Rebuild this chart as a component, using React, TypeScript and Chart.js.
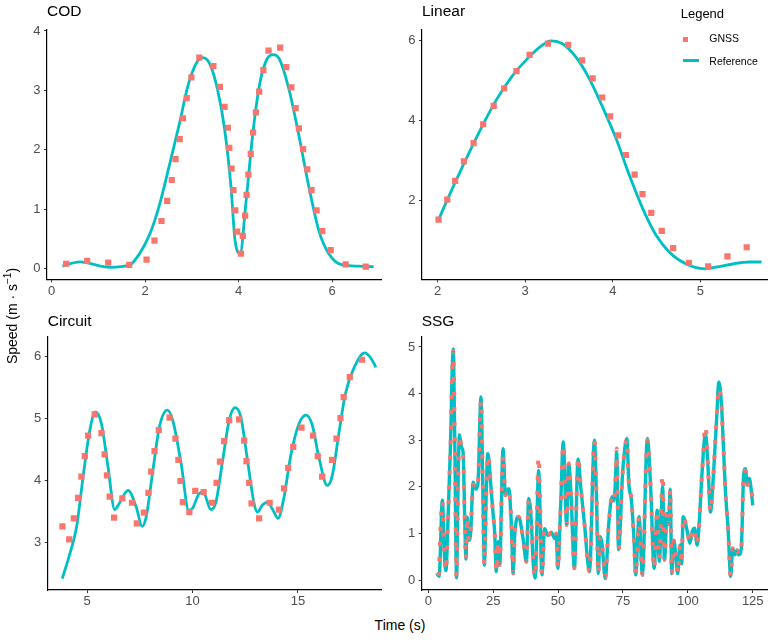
import React, { useEffect, useRef } from 'react';
import { Chart, registerables } from 'chart.js';

Chart.register(...registerables);

type Pt = [number, number];

const REFERENCE_COLOR = '#00BFC4';
const GNSS_COLOR = '#F8766D';
const FONT = '"Liberation Sans", Arial, Helvetica, sans-serif';

// ---- COD ----
const codReference: Pt[] = [
  [0.23, 0.04], [0.6, 0.11], [1.24, 0.02], [1.67, 0.06], [1.88, 0.25], [2.1, 0.58],
  [2.31, 1.08], [2.52, 1.74], [2.74, 2.46], [2.91, 3.06], [3.09, 3.45], [3.23, 3.55],
  [3.38, 3.45], [3.55, 3.01], [3.7, 2.35], [3.84, 1.35], [3.92, 0.5], [4.03, 0.25],
  [4.16, 1.13], [4.3, 2.24], [4.44, 3.06], [4.58, 3.48], [4.73, 3.6], [4.87, 3.53],
  [5.08, 3.01], [5.29, 2.24], [5.51, 1.35], [5.72, 0.63], [5.93, 0.25], [6.22, 0.06],
  [6.57, 0.04], [6.89, 0.03],
];
const codGnss: Pt[] = [
  [0.31, 0.08], [0.76, 0.13], [1.21, 0.1], [1.66, 0.06], [2.03, 0.15], [2.2, 0.47],
  [2.35, 0.8], [2.47, 1.14], [2.57, 1.49], [2.65, 1.84], [2.74, 2.18], [2.81, 2.53],
  [2.89, 2.87], [2.99, 3.22], [3.16, 3.55], [3.46, 3.41], [3.6, 3.06], [3.7, 2.72],
  [3.77, 2.37], [3.8, 2.03], [3.85, 1.68], [3.89, 1.32], [3.93, 0.98], [3.97, 0.62],
  [4.05, 0.25], [4.09, 0.55], [4.14, 0.89], [4.17, 1.24], [4.21, 1.58], [4.26, 1.93],
  [4.31, 2.29], [4.37, 2.63], [4.44, 2.98], [4.53, 3.34], [4.64, 3.67], [4.89, 3.72],
  [5.02, 3.39], [5.13, 3.05], [5.22, 2.7], [5.29, 2.36], [5.38, 2.01], [5.47, 1.67],
  [5.56, 1.32], [5.67, 0.98], [5.79, 0.63], [5.97, 0.31], [6.29, 0.07], [6.72, 0.03],
];
const codTimeTicks = [0, 2, 4, 6];
const codSpeedTicks = [0, 1, 2, 3, 4];

// ---- Linear ----
const linearReference: Pt[] = [
  [2.0, 1.47], [2.11, 2.02], [2.29, 2.88], [2.48, 3.74], [2.67, 4.52], [2.86, 5.14],
  [3.05, 5.61], [3.2, 5.9], [3.29, 6.0], [3.43, 5.92], [3.58, 5.59], [3.73, 5.06],
  [3.88, 4.36], [4.04, 3.54], [4.19, 2.63], [4.34, 1.81], [4.49, 1.15], [4.65, 0.7],
  [4.84, 0.41], [5.05, 0.29], [5.18, 0.33], [5.37, 0.41], [5.56, 0.46], [5.7, 0.46],
];
const linearGnss: Pt[] = [
  [2.01, 1.52], [2.11, 2.02], [2.2, 2.49], [2.3, 2.98], [2.41, 3.44], [2.52, 3.91],
  [2.64, 4.37], [2.76, 4.81], [2.9, 5.24], [3.05, 5.65], [3.26, 5.93], [3.49, 5.9],
  [3.65, 5.51], [3.77, 5.06], [3.88, 4.58], [3.97, 4.11], [4.06, 3.63], [4.15, 3.14],
  [4.25, 2.65], [4.34, 2.16], [4.44, 1.69], [4.56, 1.24], [4.69, 0.81], [4.87, 0.44],
  [5.09, 0.35], [5.31, 0.6], [5.53, 0.83],
];
const linearTimeTicks = [2, 3, 4, 5];
const linearSpeedTicks = [2, 4, 6];

// ---- Circuit ----
const circuitReference: Pt[] = [
  [3.82, 2.42], [4.18, 2.82], [4.5, 3.25], [4.81, 4.06], [5.13, 4.81], [5.39, 5.1],
  [5.68, 4.91], [5.99, 4.22], [6.31, 3.53], [6.51, 3.62], [6.94, 3.84], [7.33, 3.57],
  [7.61, 3.26], [7.8, 3.41], [8.12, 4.16], [8.43, 4.86], [8.8, 5.13], [9.06, 4.97],
  [9.46, 4.27], [9.82, 3.52], [10.0, 3.55], [10.32, 3.79], [10.51, 3.81], [10.87, 3.53],
  [11.11, 3.65], [11.43, 4.32], [11.74, 4.97], [12.02, 5.17], [12.29, 5.02], [12.61, 4.32],
  [12.92, 3.63], [13.08, 3.49], [13.31, 3.6], [13.55, 3.65], [13.82, 3.52], [14.06, 3.39],
  [14.34, 3.73], [14.65, 4.38], [15.05, 4.91], [15.39, 5.05], [15.68, 4.89], [15.99, 4.38],
  [16.39, 3.92], [16.62, 4.06], [16.94, 4.75], [17.25, 5.39], [17.65, 5.8], [18.17, 6.05],
  [18.43, 5.98], [18.7, 5.82],
];
const circuitGnss: Pt[] = [
  [3.83, 3.26], [4.15, 3.05], [4.37, 3.39], [4.57, 3.72], [4.73, 4.06], [4.89, 4.39],
  [5.05, 4.72], [5.36, 5.06], [5.68, 4.76], [5.83, 4.42], [5.94, 4.08], [6.07, 3.74],
  [6.28, 3.4], [6.67, 3.71], [7.13, 3.64], [7.36, 3.31], [7.69, 3.48], [7.91, 3.8],
  [8.04, 4.14], [8.2, 4.47], [8.4, 4.81], [8.91, 5.01], [9.19, 4.67], [9.33, 4.33],
  [9.43, 3.99], [9.54, 3.65], [9.85, 3.49], [10.13, 3.83], [10.53, 3.81], [10.92, 3.64],
  [11.14, 3.96], [11.3, 4.3], [11.5, 4.63], [11.74, 4.97], [12.21, 4.98], [12.45, 4.64],
  [12.56, 4.31], [12.69, 3.96], [12.8, 3.63], [13.16, 3.39], [13.66, 3.64], [14.1, 3.53],
  [14.34, 3.87], [14.54, 4.2], [14.78, 4.54], [15.17, 4.85], [15.72, 4.72], [15.94, 4.39],
  [16.15, 4.06], [16.62, 4.33], [16.83, 4.67], [17.02, 5.0], [17.17, 5.34], [17.46, 5.66],
  [18.04, 5.94],
];
const circuitTimeTicks = [5, 10, 15];
const circuitSpeedTicks = [3, 4, 5, 6];

// ---- SSG ----
const ssgReference: Pt[] = [
  [3.2, 0.14], [4.2, 0.08], [5.4, 1.71], [6.3, 0.45], [6.8, 0.2], [7.6, 1.3], [8.5, 2.8],
  [9.6, 4.96], [10.2, 3.0], [10.9, 0.05], [11.4, 1.8], [12.0, 3.12], [12.8, 2.85],
  [13.4, 2.75], [14.0, 1.4], [14.5, 0.45], [15.0, 1.35], [15.6, 0.85], [16.3, 1.0],
  [17.3, 2.1], [18.3, 1.95], [19.1, 2.05], [20.3, 3.93], [21.0, 2.0], [21.6, 0.32],
  [22.3, 1.8], [22.9, 2.71], [23.5, 2.5], [24.0, 2.1], [24.9, 1.46], [25.6, 1.0],
  [26.2, 0.18], [26.9, 0.82], [27.5, 0.32], [28.8, 2.82], [29.7, 1.82], [30.3, 1.9],
  [31.0, 1.96], [32.0, 1.2], [32.7, 0.14], [33.3, 0.96], [34.8, 1.36], [36.5, 0.89],
  [37.8, 0.39], [38.7, 1.75], [39.7, 1.25], [40.4, 0.39], [41.2, 0.04], [42.5, 2.35],
  [43.8, 0.11], [44.8, 1.1], [46.1, 0.96], [47.4, 1.02], [48.7, 0.89], [49.3, 1.0],
  [49.9, 0.25], [51.0, 1.6], [52.0, 2.96], [53.3, 1.18], [54.1, 2.5], [55.0, 1.82],
  [56.3, 0.25], [57.7, 2.6], [58.8, 1.96], [60.1, 1.25], [62.1, 0.18], [64.0, 3.0],
  [64.8, 1.8], [65.5, 0.14], [66.2, 0.93], [66.9, 0.79], [68.2, 0.03], [69.5, 1.18],
  [70.8, 1.79], [71.5, 1.7], [72.0, 2.0], [72.6, 2.75], [73.3, 0.65], [74.9, 2.32],
  [76.5, 3.04], [77.3, 2.04], [78.2, 1.75], [79.3, 0.82], [79.9, 0.11], [81.2, 1.36],
  [82.5, 0.11], [84.4, 3.04], [85.7, 1.96], [87.0, 0.25], [88.2, 1.5], [89.0, 0.4],
  [90.3, 2.0], [91.0, 0.43], [92.0, 1.43], [92.6, 1.2], [93.2, 1.95], [93.8, 0.14],
  [94.6, 0.85], [95.4, 0.5], [96.1, 0.14], [97.0, 0.75], [97.6, 0.35], [98.2, 1.36],
  [99.8, 1.04], [100.8, 0.79], [101.7, 1.04], [102.6, 1.11], [103.6, 0.75], [104.4, 1.25],
  [105.5, 2.32], [106.8, 3.15], [107.8, 2.39], [108.7, 1.46], [110.0, 2.39], [111.3, 3.68],
  [111.9, 4.25], [112.9, 3.82], [113.8, 2.75], [114.5, 1.89], [115.5, 1.11], [116.5, 0.08],
  [117.3, 0.68], [118.1, 0.54], [119.0, 0.64], [119.6, 0.54], [120.6, 0.68], [121.5, 2.25],
  [122.2, 2.39], [122.9, 2.04], [123.7, 2.18], [124.5, 1.89], [125.0, 1.6],
];
const ssgGnss: Pt[] = [
  [4.0, 0.09], [5.4, 1.68], [6.3, 0.45], [6.8, 0.2], [7.6, 1.3], [8.5, 2.8],
  [9.6, 4.92], [10.2, 3.0], [10.9, 0.08], [11.4, 1.8], [12.0, 3.1], [12.8, 2.85],
  [13.4, 2.75], [14.0, 1.4], [14.5, 0.45], [15.0, 1.35], [15.6, 0.85], [16.3, 1.0],
  [17.3, 2.05], [18.3, 1.95], [19.1, 2.05], [20.3, 3.85], [21.0, 2.0], [21.6, 0.32],
  [22.3, 1.8], [22.9, 2.68], [23.5, 2.5], [24.0, 2.1], [24.9, 1.46], [25.6, 1.0],
  [26.2, 0.18], [26.9, 0.82], [27.5, 0.32], [28.8, 2.68], [29.7, 1.82], [30.3, 1.9],
  [31.0, 1.96], [32.0, 1.2], [32.7, 0.14], [33.3, 0.96], [34.8, 1.36], [36.5, 0.89],
  [37.8, 0.39], [38.7, 1.72], [39.7, 1.25], [40.4, 0.39], [41.2, 0.06], [42.5, 2.64],
  [43.8, 0.11], [44.8, 1.1], [46.1, 0.96], [47.4, 1.02], [48.7, 0.89], [49.3, 1.0],
  [49.9, 0.25], [51.0, 1.6], [52.0, 2.9], [53.3, 1.18], [54.1, 2.5], [55.0, 1.82],
  [56.3, 0.25], [57.7, 2.64], [58.8, 1.96], [60.1, 1.25], [62.1, 0.18], [64.0, 2.98],
  [64.8, 1.8], [65.5, 0.14], [66.2, 0.93], [66.9, 0.79], [68.2, 0.06], [69.5, 1.18],
  [70.8, 1.79], [71.5, 1.7], [72.0, 2.0], [72.6, 2.82], [73.3, 0.65], [74.9, 2.32],
  [76.5, 3.02], [77.3, 2.04], [78.2, 1.75], [79.3, 0.82], [79.9, 0.11], [81.2, 1.36],
  [82.5, 0.11], [84.4, 3.0], [85.7, 1.96], [87.0, 0.25], [88.2, 1.5], [89.0, 0.45],
  [90.3, 2.25], [91.0, 0.43], [92.0, 1.43], [92.6, 1.2], [93.2, 1.95], [93.8, 0.14],
  [94.6, 0.85], [95.4, 0.5], [96.1, 0.14], [97.0, 0.75], [97.6, 0.35], [98.2, 1.36],
  [99.8, 1.04], [100.8, 0.79], [101.7, 1.04], [102.6, 1.11], [103.6, 0.75], [104.4, 1.25],
  [105.5, 2.32], [106.8, 3.3], [107.8, 2.39], [108.7, 1.46], [110.0, 2.39], [111.3, 3.68],
  [111.9, 4.12], [112.9, 3.78], [113.8, 2.75], [114.5, 1.89], [115.5, 1.11], [116.5, 0.08],
  [117.3, 0.68], [118.1, 0.54], [119.0, 0.64], [119.6, 0.54], [120.6, 0.68], [121.5, 2.25],
  [122.2, 2.35], [122.9, 2.04], [123.7, 2.1], [124.5, 1.89], [125.0, 1.75],
];
const ssgTimeTicks = [0, 25, 50, 75, 100, 125];
const ssgSpeedTicks = [0, 1, 2, 3, 4, 5];

interface PanelSpec {
  title: string;
  reference: Pt[];
  gnss: Pt[];
  dotted: boolean;
  referenceWidth: number;
  timeTicks: number[];
  speedTicks: number[];
  timeRange: [number, number];
  speedRange: [number, number];
  box: { left: number; top: number; width: number; height: number };
  axisWidth: number;
  axisHeight: number;
  padTop: number;
  padRight: number;
  titleTop: number;
}

const panels: PanelSpec[] = [
  {
    title: 'COD', reference: codReference, gnss: codGnss, dotted: false, referenceWidth: 2.8,
    timeTicks: codTimeTicks, speedTicks: codSpeedTicks,
    timeRange: [-0.1, 7.06], speedRange: [-0.182, 4.028],
    box: { left: 0, top: 18, width: 386, height: 287 },
    axisWidth: 47, axisHeight: 25.7, padTop: 7, padRight: 3, titleTop: 10.5,
  },
  {
    title: 'Linear', reference: linearReference, gnss: linearGnss, dotted: false, referenceWidth: 2.8,
    timeTicks: linearTimeTicks, speedTicks: linearSpeedTicks,
    timeRange: [1.821, 5.762], speedRange: [0.027, 6.288],
    box: { left: 386, top: 18, width: 386, height: 287 },
    axisWidth: 36, axisHeight: 25.7, padTop: 7, padRight: 5, titleTop: 10.5,
  },
  {
    title: 'Circuit', reference: circuitReference, gnss: circuitGnss, dotted: false, referenceWidth: 2.8,
    timeTicks: circuitTimeTicks, speedTicks: circuitSpeedTicks,
    timeRange: [3.13, 18.97], speedRange: [2.237, 6.317],
    box: { left: 0, top: 325, width: 386, height: 290 },
    axisWidth: 47.7, axisHeight: 25, padTop: 11, padRight: 3, titleTop: 320.5,
  },
  {
    title: 'SSG', reference: ssgReference, gnss: ssgGnss, dotted: true, referenceWidth: 3.4,
    timeTicks: ssgTimeTicks, speedTicks: ssgSpeedTicks,
    timeRange: [-2.54, 130.5], speedRange: [-0.214, 5.229],
    box: { left: 386, top: 325, width: 386, height: 290 },
    axisWidth: 35.7, axisHeight: 25, padTop: 11, padRight: 5, titleTop: 320.5,
  },
];

const toXY = (pts: Pt[]) => pts.map(([x, y]) => ({ x, y }));

function Panel({ spec }: { spec: PanelSpec }) {
  const canvasRef = useRef<HTMLCanvasElement | null>(null);

  useEffect(() => {
    const canvas = canvasRef.current;
    if (!canvas) return;

    // GNSS: square markers, or a dotted trace for the long session
    const gnssDataset: any = spec.dotted
      ? {
          label: 'GNSS',
          data: toXY(spec.gnss),
          borderColor: GNSS_COLOR,
          borderWidth: 4,
          borderDash: [4, 11],
          borderCapStyle: 'butt',
          cubicInterpolationMode: 'monotone',
          pointRadius: 0,
          fill: false,
          order: 1,
        }
      : {
          label: 'GNSS',
          data: toXY(spec.gnss),
          showLine: false,
          pointStyle: 'rect',
          pointRadius: 4.4,
          pointBackgroundColor: GNSS_COLOR,
          pointBorderWidth: 0,
          order: 1,
        };

    const referenceDataset: any = {
      label: 'Reference',
      data: toXY(spec.reference),
      borderColor: REFERENCE_COLOR,
      borderWidth: spec.referenceWidth,
      cubicInterpolationMode: 'monotone',
      pointRadius: 0,
      fill: false,
      order: 2,
    };

    const tickFont = { family: FONT, size: 13 };
    const grid = {
      drawOnChartArea: false,
      drawTicks: true,
      tickLength: 3,
      color: '#333333',
      lineWidth: 1,
    };
    const border = { display: true, color: '#000000', width: 1.2 };

    const chart = new Chart(canvas, {
      type: 'line',
      data: { datasets: [gnssDataset, referenceDataset] },
      options: {
        responsive: false,
        maintainAspectRatio: false,
        animation: false,
        events: [],
        layout: { padding: { top: spec.padTop, right: spec.padRight, left: 0, bottom: 0 } },
        plugins: {
          legend: { display: false },
          tooltip: { enabled: false },
          title: { display: false },
        },
        scales: {
          x: {
            type: 'linear',
            min: spec.timeRange[0],
            max: spec.timeRange[1],
            afterBuildTicks: (s: any) => {
              s.ticks = spec.timeTicks.map((value) => ({ value }));
            },
            afterFit: (s: any) => {
              s.height = spec.axisHeight;
            },
            grid,
            border,
            ticks: {
              font: tickFont,
              color: '#4D4D4D',
              padding: 1,
              maxRotation: 0,
              callback: (v: any) => String(v),
            },
          },
          y: {
            type: 'linear',
            position: 'left',
            min: spec.speedRange[0],
            max: spec.speedRange[1],
            afterBuildTicks: (s: any) => {
              s.ticks = spec.speedTicks.map((value) => ({ value }));
            },
            afterFit: (s: any) => {
              s.width = spec.axisWidth;
            },
            grid,
            border,
            ticks: {
              font: tickFont,
              color: '#4D4D4D',
              padding: 3.5,
              callback: (v: any) => String(v),
            },
          },
        },
      } as any,
    });

    return () => chart.destroy();
  }, [spec]);

  const { left, top, width, height } = spec.box;
  return (
    <>
      <canvas
        ref={canvasRef}
        width={width}
        height={height}
        style={{ position: 'absolute', left, top, width, height }}
      />
      <div
        style={{
          position: 'absolute',
          left: left + spec.axisWidth,
          top: spec.titleTop - 0.4885 * 15.5,
          font: `15.5px ${FONT}`,
          lineHeight: '15.5px',
          color: '#000',
          whiteSpace: 'nowrap',
        }}
      >
        {spec.title}
      </div>
    </>
  );
}

function Legend() {
  const text = (label: string, size: number, left: number, centerY: number) => (
    <div
      style={{
        position: 'absolute',
        left,
        top: centerY - 0.4885 * size,
        font: `${size}px ${FONT}`,
        lineHeight: `${size}px`,
        color: '#000',
        whiteSpace: 'nowrap',
      }}
    >
      {label}
    </div>
  );
  return (
    <>
      {text('Legend', 13, 680.7, 13.8)}
      <div
        style={{
          position: 'absolute', left: 682.5, top: 36.5, width: 5, height: 5,
          background: GNSS_COLOR,
        }}
      />
      {text('GNSS', 10.5, 709.3, 38.5)}
      <div
        style={{
          position: 'absolute', left: 682.7, top: 58.8, width: 16.6, height: 3,
          background: REFERENCE_COLOR,
        }}
      />
      {text('Reference', 10.5, 709.3, 60.8)}
    </>
  );
}

export default function App() {
  return (
    <div
      style={{
        position: 'absolute',
        left: 0,
        top: 0,
        width: 772,
        height: 640,
        background: '#ffffff',
        overflow: 'hidden',
      }}
    >
      {panels.map((p) => (
        <Panel key={p.title} spec={p} />
      ))}
      <Legend />
      <div
        style={{
          position: 'absolute',
          left: 12,
          top: 315.5,
          transform: 'translate(-50%, -50%) rotate(-90deg)',
          font: `14px ${FONT}`,
          lineHeight: '14px',
          color: '#000',
          whiteSpace: 'nowrap',
        }}
      >
        Speed (m · s<sup style={{ fontSize: '10px', lineHeight: 0 }}>−1</sup>)
      </div>
      <div
        style={{
          position: 'absolute',
          left: 400,
          top: 624.7 - 0.4885 * 14,
          transform: 'translateX(-50%)',
          font: `14px ${FONT}`,
          lineHeight: '14px',
          color: '#000',
          whiteSpace: 'nowrap',
        }}
      >
        Time (s)
      </div>
    </div>
  );
}
